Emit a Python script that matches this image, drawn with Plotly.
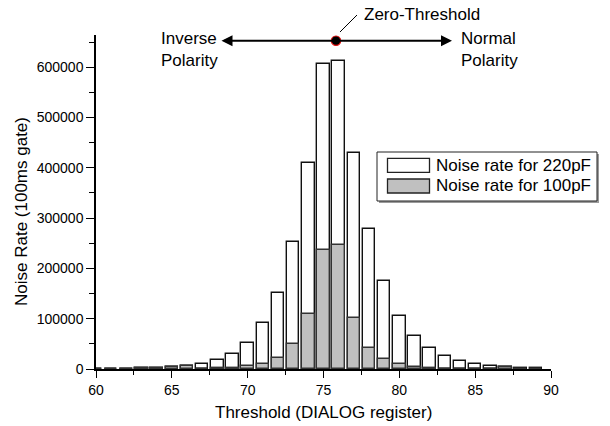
import plotly.graph_objects as go

# ---- data ----
threshold = list(range(60, 90))
rate_220pF = [300, 500, 800, 1200, 2000, 3200, 5900, 9900, 17900, 30400,
              52300, 91400, 151000, 252000, 410500, 606000, 613000, 429000, 278000, 175000,
              106000, 66000, 42000, 25800, 15900, 9900, 5900, 4000, 2600, 1500]
rate_100pF = [300, 500, 800, 1200, 2000, 3300, 6000, 1000, 1500, 2500,
              5300, 9900, 22000, 49700, 109000, 235700, 247000, 100500, 41700, 19800,
              9300, 4600, 1200, 800, 600, 500, 1000, 4100, 800, 500]
series_names = ["Noise rate for 220pF", "Noise rate for 100pF"]
x_tick_vals = [60, 65, 70, 75, 80, 85, 90]
y_tick_vals = [0, 100000, 200000, 300000, 400000, 500000, 600000]
x_title = "Threshold (DIALOG register)"
y_title = "Noise Rate (100ms gate)"

FONT = "Liberation Sans, Arial, Helvetica, sans-serif"
W, H = 610, 426
L, R, T, B = 96, 551, 35, 369


def px(xp):
    return (xp - L) / (R - L)


def py(yp):
    return (B - yp) / (B - T)


fig = go.Figure()
fig.add_trace(go.Bar(x=threshold, y=rate_220pF, name=series_names[0], width=0.83,
                     marker=dict(color="white", line=dict(color="#111111", width=1.4)),
                     showlegend=False, hoverinfo="skip"))
fig.add_trace(go.Bar(x=threshold, y=rate_100pF, name=series_names[1], width=0.83,
                     marker=dict(color="#c0c0c0", line=dict(color="#333333", width=1.4)),
                     showlegend=False, hoverinfo="skip"))

shapes = []
annotations = []

# legend box (custom)
lx0, ly0, lx1, ly1 = 377, 152, 597, 201
shapes.append(dict(type="rect", xref="paper", yref="paper",
                   x0=px(lx0 + 2), x1=px(lx1 + 2), y0=py(ly0 + 2), y1=py(ly1 + 2),
                   fillcolor="#9a9a9a", line=dict(width=0), layer="above"))
shapes.append(dict(type="rect", xref="paper", yref="paper",
                   x0=px(lx0), x1=px(lx1), y0=py(ly0), y1=py(ly1),
                   fillcolor="white", line=dict(color="#222222", width=1), layer="above"))
swatch_fill = ["white", "#c0c0c0"]
for i, name in enumerate(series_names):
    yc = 165.3 + i * 20.7
    shapes.append(dict(type="rect", xref="paper", yref="paper",
                       x0=px(387.5), x1=px(429.5), y0=py(yc - 7), y1=py(yc + 7),
                       fillcolor=swatch_fill[i], line=dict(color="#222222", width=1.3),
                       layer="above"))
    annotations.append(dict(xref="paper", yref="paper", x=px(434), y=py(yc),
                            xanchor="left", yanchor="middle", showarrow=False,
                            text=name, font=dict(family=FONT, size=17, color="black")))

# polarity arrow
ay_pix = 40.7
annotations.append(dict(xref="paper", yref="paper", axref="pixel", ayref="pixel",
                        x=px(452), y=py(ay_pix), ax=-(452 - 220), ay=0,
                        text="", showarrow=True, arrowside="end+start",
                        arrowhead=2, arrowsize=1.1, arrowwidth=2, arrowcolor="black",
                        standoff=0, startstandoff=0))
# leader line and zero-threshold dot
shapes.append(dict(type="line", xref="paper", yref="paper",
                   x0=px(340), y0=py(32), x1=px(357), y1=py(15),
                   line=dict(color="black", width=1), layer="above"))
shapes.append(dict(type="circle", xref="paper", yref="paper",
                   x0=px(336 - 4.7), x1=px(336 + 4.7), y0=py(ay_pix - 4.7), y1=py(ay_pix + 4.7),
                   fillcolor="black", line=dict(color="#e01010", width=1.2), layer="above"))

annotations.append(dict(xref="paper", yref="paper", x=px(362), y=py(14),
                        xanchor="left", yanchor="middle", showarrow=False,
                        text="Zero-Threshold", font=dict(family=FONT, size=17, color="black")))
annotations.append(dict(xref="paper", yref="paper", x=px(159), y=py(49.5),
                        xanchor="left", yanchor="middle", showarrow=False, align="left",
                        text="Inverse<br>Polarity", font=dict(family=FONT, size=17, color="black")))
annotations.append(dict(xref="paper", yref="paper", x=px(459), y=py(49.5),
                        xanchor="left", yanchor="middle", showarrow=False, align="left",
                        text="Normal<br>Polarity", font=dict(family=FONT, size=17, color="black")))

# axis titles
annotations.append(dict(xref="paper", yref="paper", x=px(323), y=py(412),
                        xanchor="center", yanchor="middle", showarrow=False,
                        text=x_title, font=dict(family=FONT, size=17, color="black")))
annotations.append(dict(xref="paper", yref="paper", x=px(21), y=py(212),
                        xanchor="center", yanchor="middle", showarrow=False, textangle=-90,
                        text=y_title, font=dict(family=FONT, size=17, color="black")))

fig.update_layout(
    width=W, height=H,
    margin=dict(l=L, r=W - R, t=T, b=H - B, autoexpand=False),
    paper_bgcolor="white", plot_bgcolor="white",
    barmode="overlay", bargap=0,
    font=dict(family=FONT, size=14, color="black"),
    shapes=shapes, annotations=annotations,
    showlegend=False, hovermode=False,
)
fig.update_xaxes(range=[60, 90], tickvals=x_tick_vals, ticktext=[str(v) for v in x_tick_vals],
                 ticks="outside", ticklen=7, tickwidth=1.3, tickcolor="black",
                 minor=dict(dtick=2.5, tick0=60, ticks="outside", ticklen=4, tickwidth=1.2, tickcolor="black"),
                 showline=True, linecolor="black", linewidth=1.5, showgrid=False, zeroline=False,
                 tickfont=dict(size=14))
fig.update_yaxes(range=[0, 664000], tickvals=y_tick_vals, ticktext=[str(v) for v in y_tick_vals],
                 ticks="outside", ticklen=8, tickwidth=1.3, tickcolor="black",
                 minor=dict(dtick=50000, tick0=0, ticks="outside", ticklen=5, tickwidth=1.2, tickcolor="black"),
                 showline=True, linecolor="black", linewidth=1.5, showgrid=False, zeroline=False,
                 tickfont=dict(size=14))

fig.write_html("out.html", config={"displayModeBar": False},
               post_script="document.body.style.margin='0';")
